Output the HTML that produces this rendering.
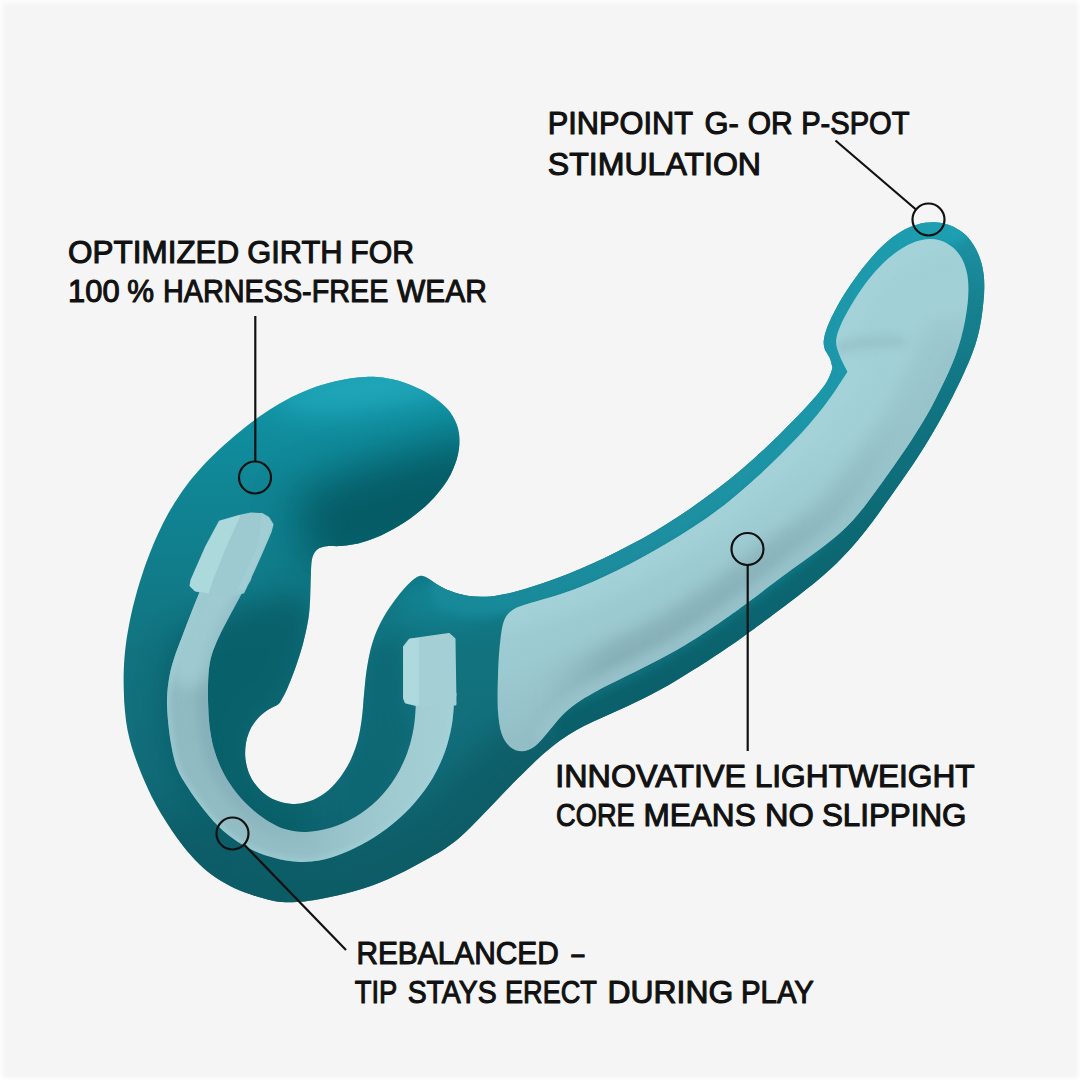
<!DOCTYPE html>
<html><head><meta charset="utf-8">
<style>
html,body{margin:0;padding:0;background:#f5f5f5;}
body{width:1080px;height:1080px;overflow:hidden;position:relative;font-family:"Liberation Sans",sans-serif;}
svg{position:absolute;left:0;top:0;display:block;}
text{font-family:"Liberation Sans",sans-serif;fill:#111;stroke:#111;stroke-width:1.1;stroke-linejoin:round;}
</style></head>
<body>
<svg width="1080" height="1080" viewBox="0 0 1080 1080">
<defs>
  <clipPath id="bodyclip"><path d="M382.7,377.6 C389.4,378.6 397.5,380.3 405.2,383.0 C412.9,385.7 422.0,389.7 429.0,393.9 C436.0,398.2 442.4,403.5 447.1,408.5 C451.7,413.6 454.6,418.8 456.7,424.2 C458.7,429.6 459.5,435.0 459.5,440.8 C459.5,446.7 458.7,452.9 456.7,459.6 C454.6,466.2 451.7,473.5 447.1,480.7 C442.5,487.9 436.1,495.8 429.1,502.7 C422.1,509.6 412.9,516.7 405.0,522.1 C397.2,527.5 388.6,531.8 382.0,535.1 C375.3,538.3 369.9,539.9 364.9,541.5 C360.0,543.1 356.4,543.9 352.3,544.6 C348.1,545.4 344.3,545.9 340.1,546.1 C335.8,546.4 330.6,545.8 327.0,546.2 C323.4,546.6 320.6,547.3 318.3,548.8 C316.0,550.3 314.5,552.3 313.3,555.0 C312.1,557.7 311.7,560.5 311.3,565.0 C310.9,569.5 310.9,576.8 310.7,582.2 C310.5,587.7 310.4,593.0 310.2,597.5 C310.0,601.9 309.8,605.5 309.5,609.1 C309.2,612.8 308.9,615.5 308.3,619.3 C307.6,623.1 306.9,627.1 305.8,631.9 C304.7,636.7 303.4,642.5 301.8,648.1 C300.2,653.7 298.1,660.1 296.2,665.6 C294.3,671.1 292.1,676.8 290.4,681.1 C288.6,685.5 287.2,688.9 285.8,691.7 C284.4,694.6 283.5,696.3 282.2,698.4 C281.0,700.5 280.4,702.4 278.3,704.2 C276.2,706.0 272.5,707.0 269.4,709.0 C266.3,711.0 262.8,713.2 259.8,716.3 C256.8,719.4 253.5,723.2 251.2,727.6 C248.9,732.0 247.0,737.4 246.0,742.7 C245.1,748.0 244.8,753.9 245.5,759.4 C246.2,764.9 247.7,770.6 250.1,775.7 C252.5,780.8 256.0,785.9 260.1,789.9 C264.3,794.0 269.6,797.7 274.9,800.0 C280.3,802.4 286.6,803.7 292.4,803.9 C298.2,804.2 304.2,803.1 309.6,801.3 C315.0,799.5 320.1,796.6 324.9,793.0 C329.7,789.4 334.2,784.9 338.3,779.7 C342.5,774.5 346.4,768.3 349.7,761.9 C352.9,755.5 355.6,748.5 357.6,741.3 C359.6,734.1 360.7,726.6 361.8,718.8 C362.9,711.0 363.2,702.6 364.0,694.6 C364.8,686.7 365.4,678.2 366.5,671.1 C367.5,664.0 368.8,657.5 370.0,652.0 C371.3,646.5 372.6,642.3 374.0,638.1 C375.5,633.9 376.7,630.7 378.6,626.8 C380.5,622.8 382.6,618.7 385.3,614.3 C388.0,609.9 391.5,604.7 394.8,600.3 C398.1,595.8 401.9,591.1 405.2,587.5 C408.4,584.0 411.5,580.9 414.1,579.0 C416.8,577.0 418.7,576.0 421.0,575.8 C423.3,575.7 425.2,576.8 427.9,578.2 C430.6,579.6 433.4,582.2 437.2,584.4 C441.0,586.5 445.5,589.2 450.5,591.1 C455.5,593.0 461.4,594.8 467.3,595.7 C473.3,596.7 479.6,597.1 486.1,596.7 C492.6,596.4 499.2,595.3 506.5,593.7 C513.7,592.2 521.5,589.9 529.6,587.5 C537.6,585.0 546.3,582.1 554.7,579.0 C563.1,576.0 571.6,572.6 580.0,569.0 C588.4,565.5 596.7,561.6 605.0,557.7 C613.4,553.7 621.7,549.5 630.0,545.1 C638.3,540.7 646.7,536.1 655.0,531.2 C663.3,526.3 671.7,521.1 680.0,515.6 C688.3,510.1 696.6,504.3 705.0,498.1 C713.3,492.0 721.6,485.7 730.0,478.9 C738.4,472.1 746.9,464.8 755.4,457.2 C763.9,449.5 773.0,440.8 781.0,432.9 C789.1,424.9 797.4,416.4 803.9,409.5 C810.3,402.6 815.8,396.7 819.8,391.6 C823.9,386.5 826.2,382.8 828.3,378.9 C830.5,375.0 831.8,369.8 832.5,368.0 C832.1,366.4 831.3,361.7 830.1,358.7 C828.8,355.7 825.8,351.4 825.0,350.0 C824.8,348.5 823.3,345.1 823.7,341.2 C824.1,337.3 825.3,332.4 827.5,326.6 C829.7,320.9 833.1,313.8 836.9,306.9 C840.7,299.9 845.5,292.3 850.4,285.1 C855.3,278.0 860.8,270.4 866.3,263.8 C871.7,257.1 877.5,250.6 883.2,245.3 C888.8,240.1 894.4,235.6 900.0,232.2 C905.6,228.8 911.2,226.3 916.8,224.7 C922.4,223.0 928.2,222.2 933.7,222.3 C939.2,222.4 944.8,223.4 949.8,225.2 C954.7,227.0 959.4,229.8 963.3,233.1 C967.3,236.4 970.7,240.5 973.4,244.7 C976.2,249.0 978.3,253.7 980.0,258.4 C981.7,263.0 982.7,267.8 983.4,272.7 C984.2,277.5 984.3,282.3 984.3,287.4 C984.3,292.5 983.9,297.7 983.3,303.1 C982.8,308.5 982.1,314.1 981.2,319.7 C980.2,325.3 979.2,330.9 977.7,336.6 C976.2,342.3 974.3,348.2 972.0,354.1 C969.8,360.1 966.9,366.4 964.2,372.4 C961.5,378.4 958.6,384.3 955.8,390.1 C953.0,395.8 950.3,401.3 947.3,406.8 C944.4,412.4 941.4,417.8 938.3,423.3 C935.2,428.9 931.9,434.4 928.5,440.0 C925.2,445.5 921.7,451.1 918.0,456.7 C914.4,462.3 910.5,467.9 906.7,473.5 C902.9,479.0 899.0,484.5 895.2,489.9 C891.5,495.2 888.0,500.2 884.1,505.6 C880.3,511.0 876.5,516.4 872.1,522.3 C867.6,528.2 862.5,534.8 857.2,541.0 C851.9,547.2 845.9,553.8 840.3,559.5 C834.7,565.2 829.0,570.3 823.5,575.2 C817.9,580.1 812.8,584.2 807.0,588.8 C801.3,593.4 795.3,598.0 789.0,602.8 C782.7,607.6 775.3,613.0 769.1,617.7 C762.8,622.3 756.5,626.9 751.4,630.7 C746.3,634.4 742.6,637.2 738.3,640.2 C734.0,643.2 730.5,645.7 725.8,648.8 C721.2,651.9 715.9,655.4 710.5,658.9 C705.1,662.4 699.1,666.2 693.5,669.8 C687.9,673.3 682.2,676.9 676.6,680.2 C671.1,683.5 665.5,686.7 660.0,689.8 C654.4,692.8 648.9,695.7 643.3,698.5 C637.8,701.3 632.2,703.9 626.7,706.5 C621.1,709.1 615.6,711.5 610.0,714.0 C604.5,716.5 598.9,718.8 593.3,721.5 C587.8,724.2 582.0,726.8 576.5,730.0 C570.9,733.2 565.4,736.7 560.0,740.5 C554.7,744.3 549.9,748.3 544.4,753.1 C539.0,757.8 533.7,762.8 527.1,769.2 C520.6,775.6 512.7,783.6 505.0,791.5 C497.4,799.4 488.4,809.1 481.1,816.6 C473.8,824.0 467.1,831.0 461.1,836.3 C455.1,841.6 450.5,844.9 445.3,848.4 C440.1,851.9 435.3,854.4 430.0,857.4 C424.7,860.4 419.1,863.5 413.6,866.5 C408.1,869.4 402.4,872.5 396.8,875.1 C391.2,877.8 385.6,880.3 380.0,882.5 C374.4,884.7 368.8,886.7 363.2,888.5 C357.6,890.3 352.1,891.9 346.6,893.3 C341.0,894.8 335.6,896.0 330.0,897.1 C324.4,898.3 318.7,899.4 313.1,900.2 C307.6,901.0 301.8,901.8 296.6,902.1 C291.4,902.4 286.5,902.5 281.8,902.1 C277.1,901.7 273.2,900.8 268.5,899.7 C263.8,898.6 259.1,897.3 253.7,895.5 C248.3,893.7 242.0,891.7 235.8,888.8 C229.6,885.9 222.6,882.3 216.4,878.1 C210.2,873.9 204.1,868.7 198.7,863.5 C193.2,858.3 188.4,852.5 183.9,847.0 C179.4,841.4 175.4,835.7 171.5,830.1 C167.7,824.4 164.1,818.9 160.8,813.3 C157.5,807.8 154.5,802.2 151.7,796.7 C148.9,791.1 146.4,785.5 144.0,780.0 C141.6,774.4 139.4,768.9 137.4,763.4 C135.3,757.9 133.4,752.5 131.7,746.9 C130.1,741.4 128.6,735.9 127.5,730.0 C126.4,724.1 125.6,717.9 125.0,711.4 C124.3,705.0 123.9,698.2 123.8,691.1 C123.6,684.1 123.5,676.9 123.8,669.2 C124.2,661.5 124.7,653.4 125.8,645.1 C126.8,636.8 128.4,627.8 130.1,619.4 C131.8,611.0 134.0,602.4 136.1,594.7 C138.2,586.9 140.4,579.8 142.7,572.9 C145.0,565.9 147.3,559.5 149.9,552.9 C152.5,546.3 155.2,539.7 158.3,533.2 C161.4,526.6 164.6,520.0 168.2,513.6 C171.8,507.3 175.5,501.1 179.7,494.9 C183.9,488.7 188.4,482.7 193.5,476.5 C198.6,470.4 204.4,464.1 210.4,458.0 C216.5,451.9 223.4,445.5 229.9,439.9 C236.3,434.2 243.1,428.7 249.3,423.9 C255.4,419.2 261.2,415.1 266.9,411.4 C272.6,407.6 278.0,404.5 283.5,401.5 C289.0,398.4 294.4,395.7 300.0,393.3 C305.5,390.8 311.1,388.5 316.7,386.6 C322.3,384.7 328.0,383.1 333.5,381.7 C339.0,380.4 344.4,379.3 349.7,378.5 C355.0,377.7 359.7,377.0 365.2,376.9 C370.7,376.7 376.0,376.6 382.7,377.6Z"/></clipPath>
  <clipPath id="coreclip"><path d="M513.5,609.5 C517.8,606.6 523.7,605.3 530.5,603.1 C537.3,600.9 545.8,598.8 554.0,596.2 C562.2,593.5 571.2,590.5 579.7,587.2 C588.2,583.9 596.7,580.2 605.0,576.3 C613.4,572.4 621.7,568.2 630.0,563.9 C638.3,559.6 646.7,555.0 655.0,550.3 C663.3,545.6 671.7,540.7 680.0,535.5 C688.3,530.3 696.6,525.0 705.0,519.2 C713.3,513.3 721.6,507.2 730.0,500.4 C738.4,493.7 747.0,486.3 755.4,478.6 C763.9,471.0 772.7,462.5 780.7,454.6 C788.6,446.6 796.5,438.5 803.3,431.0 C810.1,423.5 816.1,416.3 821.5,409.5 C826.9,402.6 831.4,396.2 835.7,389.9 C840.0,383.6 845.5,374.7 847.5,371.7 C846.1,368.9 841.2,359.9 839.4,354.8 C837.5,349.8 836.1,345.9 836.2,341.3 C836.3,336.6 837.6,332.7 840.0,326.9 C842.4,321.1 846.2,313.9 850.5,306.6 C854.8,299.2 860.5,290.3 865.9,283.1 C871.3,275.8 877.5,268.8 883.2,263.2 C888.9,257.6 894.8,253.2 900.3,249.6 C905.8,246.0 911.2,243.4 916.2,241.6 C921.3,239.9 926.1,239.1 930.6,239.0 C935.0,239.0 939.2,239.9 943.1,241.4 C946.9,243.0 950.5,245.3 953.6,248.1 C956.7,250.9 959.5,254.4 961.7,258.3 C963.8,262.3 965.5,266.8 966.6,271.6 C967.8,276.3 968.3,281.5 968.4,286.7 C968.6,292.0 968.2,297.5 967.7,303.0 C967.1,308.6 966.2,314.3 965.2,320.1 C964.1,325.9 962.8,331.8 961.2,337.7 C959.6,343.6 957.6,349.5 955.4,355.4 C953.3,361.3 950.7,367.2 948.1,373.0 C945.5,378.7 942.8,384.4 940.0,390.1 C937.3,395.7 934.5,401.2 931.5,406.7 C928.5,412.3 925.3,417.8 922.0,423.3 C918.6,428.9 915.1,434.4 911.5,440.0 C907.8,445.6 904.0,451.2 900.1,456.7 C896.3,462.3 892.3,467.9 888.4,473.5 C884.5,479.0 880.6,484.5 876.7,489.8 C872.9,495.1 869.2,500.2 865.3,505.2 C861.4,510.2 857.8,514.8 853.5,519.6 C849.2,524.3 844.6,528.9 839.3,533.6 C834.1,538.3 827.9,543.2 822.0,547.6 C816.2,552.1 810.1,556.3 804.3,560.5 C798.5,564.6 793.1,568.4 787.3,572.7 C781.4,577.0 774.9,581.9 769.0,586.3 C763.1,590.8 756.8,595.7 751.7,599.5 C746.6,603.3 742.6,606.3 738.3,609.4 C734.0,612.5 730.5,615.0 725.8,618.2 C721.2,621.5 715.9,625.1 710.5,628.7 C705.1,632.3 699.1,636.3 693.5,639.8 C687.9,643.4 682.2,646.8 676.6,650.0 C671.1,653.2 665.5,656.1 660.0,659.1 C654.4,662.0 648.9,664.7 643.3,667.5 C637.8,670.3 632.2,673.0 626.7,675.7 C621.1,678.5 615.6,681.2 610.0,684.1 C604.4,687.0 598.8,689.7 593.1,692.9 C587.5,696.1 581.8,699.2 576.4,703.2 C571.0,707.1 565.6,711.7 560.8,716.7 C555.9,721.7 551.6,728.0 547.2,733.0 C542.9,737.9 538.9,743.4 534.7,746.4 C530.5,749.5 526.1,751.3 522.0,751.3 C517.9,751.4 513.5,749.8 510.1,746.9 C506.6,743.9 503.6,739.8 501.5,733.5 C499.5,727.3 498.4,719.0 497.8,709.3 C497.3,699.6 497.6,686.6 498.0,675.5 C498.3,664.3 499.0,651.6 500.1,642.4 C501.1,633.2 502.0,625.8 504.2,620.3 C506.5,614.9 509.1,612.3 513.5,609.5Z"/></clipPath>
  <clipPath id="chanclip"><path d="M210.0,568.0 C201.6,570.8 202.9,584.2 199.6,592.1 C196.3,600.0 193.3,607.9 190.3,615.3 C187.4,622.7 184.6,630.0 182.1,636.7 C179.6,643.3 177.1,649.4 175.2,655.1 C173.3,660.9 171.7,666.0 170.5,671.1 C169.4,676.1 168.6,680.8 168.0,685.5 C167.4,690.2 167.1,694.3 167.0,699.4 C166.9,704.5 167.1,709.8 167.6,716.2 C168.1,722.6 169.0,730.7 170.0,737.8 C171.1,744.8 172.5,752.6 174.0,758.4 C175.5,764.3 176.9,768.2 179.0,772.7 C181.0,777.1 183.1,780.0 186.2,784.9 C189.3,789.7 193.1,795.7 197.7,801.8 C202.3,807.9 207.9,815.4 213.7,821.4 C219.5,827.5 226.0,833.4 232.6,838.2 C239.1,843.0 246.0,846.9 253.0,850.2 C260.1,853.5 267.5,856.1 274.9,858.0 C282.3,860.0 289.9,861.4 297.2,861.8 C304.6,862.2 311.7,861.9 319.3,860.6 C326.8,859.2 334.4,856.9 342.4,853.6 C350.5,850.4 359.2,846.1 367.6,841.2 C375.9,836.2 384.7,830.3 392.6,823.9 C400.5,817.5 408.3,810.1 414.9,802.5 C421.6,794.8 427.7,786.4 432.7,778.0 C437.6,769.6 441.7,760.6 444.8,752.1 C447.9,743.7 449.9,734.9 451.4,727.3 C452.9,719.7 453.4,712.7 453.7,706.5 C454.1,700.3 459.8,692.8 453.5,690.0 C447.2,687.2 422.3,687.2 416.0,690.0 C409.7,692.8 416.1,700.7 415.7,707.0 C415.3,713.3 415.0,720.2 413.7,727.8 C412.3,735.4 410.5,744.1 407.4,752.4 C404.3,760.7 400.3,769.6 395.3,777.6 C390.3,785.5 384.2,793.4 377.4,800.1 C370.7,806.7 362.8,812.7 354.8,817.3 C346.9,822.0 337.9,825.6 329.8,828.0 C321.7,830.4 313.4,831.7 306.2,831.9 C299.0,832.2 292.6,831.3 286.5,829.6 C280.4,828.0 275.1,825.3 269.5,822.0 C263.8,818.7 258.3,814.6 252.8,809.8 C247.4,805.1 241.6,799.4 236.8,793.3 C231.9,787.2 227.2,780.2 223.6,773.3 C220.0,766.5 217.1,759.1 214.9,752.1 C212.7,745.2 211.4,738.4 210.3,731.4 C209.2,724.4 208.7,717.3 208.4,710.3 C208.0,703.2 207.9,695.6 208.0,689.0 C208.1,682.4 208.2,676.2 208.8,670.5 C209.4,664.8 210.1,660.2 211.8,654.5 C213.5,648.8 216.0,643.0 219.1,636.4 C222.1,629.7 226.5,621.9 230.2,614.8 C234.0,607.7 238.2,600.3 241.5,593.7 C244.7,587.1 255.2,579.3 250.0,575.0 C244.8,570.7 218.4,565.2 210.0,568.0Z"/></clipPath>
  <filter id="b3" color-interpolation-filters="sRGB" filterUnits="userSpaceOnUse" x="0" y="0" width="1080" height="1080"><feGaussianBlur stdDeviation="3"/></filter>
  <filter id="b5" color-interpolation-filters="sRGB" filterUnits="userSpaceOnUse" x="0" y="0" width="1080" height="1080"><feGaussianBlur stdDeviation="5"/></filter>
  <filter id="b8" color-interpolation-filters="sRGB" filterUnits="userSpaceOnUse" x="0" y="0" width="1080" height="1080"><feGaussianBlur stdDeviation="8"/></filter>
  <filter id="b14" color-interpolation-filters="sRGB" filterUnits="userSpaceOnUse" x="0" y="0" width="1080" height="1080"><feGaussianBlur stdDeviation="14"/></filter>
  <filter id="b22" color-interpolation-filters="sRGB" filterUnits="userSpaceOnUse" x="0" y="0" width="1080" height="1080"><feGaussianBlur stdDeviation="22"/></filter>
  <linearGradient id="bodyg" gradientUnits="userSpaceOnUse" x1="0" y1="380" x2="0" y2="900">
    <stop offset="0" stop-color="#1094a6"/><stop offset=".23" stop-color="#108493"/><stop offset=".375" stop-color="#117c8a"/><stop offset=".52" stop-color="#12737f"/><stop offset=".72" stop-color="#126d7a"/><stop offset="1" stop-color="#0e606b"/>
  </linearGradient>
  <linearGradient id="coreg" gradientUnits="userSpaceOnUse" x1="640" y1="520" x2="700" y2="660">
    <stop offset="0" stop-color="#a2d0d7"/><stop offset=".55" stop-color="#9ccad1"/><stop offset="1" stop-color="#93bec6"/>
  </linearGradient>
  <linearGradient id="rimg" gradientUnits="userSpaceOnUse" x1="0" y1="230" x2="0" y2="740">
    <stop offset="0" stop-color="#1c93a5"/><stop offset=".14" stop-color="#17818f"/><stop offset=".3" stop-color="#127684"/><stop offset=".6" stop-color="#0c6873"/><stop offset="1" stop-color="#095e69"/>
  </linearGradient>
  <linearGradient id="shg" gradientUnits="userSpaceOnUse" x1="540" y1="0" x2="975" y2="0">
    <stop offset="0" stop-color="#7ea4ac" stop-opacity="0"/><stop offset=".16" stop-color="#7ea4ac" stop-opacity=".62"/><stop offset=".55" stop-color="#7ea4ac" stop-opacity=".55"/><stop offset=".78" stop-color="#7ea4ac" stop-opacity=".28"/><stop offset="1" stop-color="#7ea4ac" stop-opacity=".12"/>
  </linearGradient>
  <linearGradient id="chg" gradientUnits="userSpaceOnUse" x1="167" y1="0" x2="455" y2="0">
    <stop offset="0" stop-color="#90bac1"/><stop offset=".5" stop-color="#95bfc7"/><stop offset=".8" stop-color="#a0cbd1"/><stop offset="1" stop-color="#a5d0d6"/>
  </linearGradient>
  <linearGradient id="chsh" gradientUnits="userSpaceOnUse" x1="200" y1="0" x2="330" y2="0">
    <stop offset="0" stop-color="#7aa6b2" stop-opacity=".55"/><stop offset="1" stop-color="#7aa6b2" stop-opacity="0"/>
  </linearGradient>
  <linearGradient id="rimt" gradientUnits="userSpaceOnUse" x1="480" y1="0" x2="950" y2="0">
    <stop offset="0" stop-color="#178999"/><stop offset=".36" stop-color="#1d8e9f"/><stop offset=".78" stop-color="#1c98aa"/><stop offset="1" stop-color="#1e9fb2"/>
  </linearGradient>
</defs>
<rect width="1080" height="1080" fill="#f5f5f5"/>
<!-- body -->
<path d="M382.7,377.6 C389.4,378.6 397.5,380.3 405.2,383.0 C412.9,385.7 422.0,389.7 429.0,393.9 C436.0,398.2 442.4,403.5 447.1,408.5 C451.7,413.6 454.6,418.8 456.7,424.2 C458.7,429.6 459.5,435.0 459.5,440.8 C459.5,446.7 458.7,452.9 456.7,459.6 C454.6,466.2 451.7,473.5 447.1,480.7 C442.5,487.9 436.1,495.8 429.1,502.7 C422.1,509.6 412.9,516.7 405.0,522.1 C397.2,527.5 388.6,531.8 382.0,535.1 C375.3,538.3 369.9,539.9 364.9,541.5 C360.0,543.1 356.4,543.9 352.3,544.6 C348.1,545.4 344.3,545.9 340.1,546.1 C335.8,546.4 330.6,545.8 327.0,546.2 C323.4,546.6 320.6,547.3 318.3,548.8 C316.0,550.3 314.5,552.3 313.3,555.0 C312.1,557.7 311.7,560.5 311.3,565.0 C310.9,569.5 310.9,576.8 310.7,582.2 C310.5,587.7 310.4,593.0 310.2,597.5 C310.0,601.9 309.8,605.5 309.5,609.1 C309.2,612.8 308.9,615.5 308.3,619.3 C307.6,623.1 306.9,627.1 305.8,631.9 C304.7,636.7 303.4,642.5 301.8,648.1 C300.2,653.7 298.1,660.1 296.2,665.6 C294.3,671.1 292.1,676.8 290.4,681.1 C288.6,685.5 287.2,688.9 285.8,691.7 C284.4,694.6 283.5,696.3 282.2,698.4 C281.0,700.5 280.4,702.4 278.3,704.2 C276.2,706.0 272.5,707.0 269.4,709.0 C266.3,711.0 262.8,713.2 259.8,716.3 C256.8,719.4 253.5,723.2 251.2,727.6 C248.9,732.0 247.0,737.4 246.0,742.7 C245.1,748.0 244.8,753.9 245.5,759.4 C246.2,764.9 247.7,770.6 250.1,775.7 C252.5,780.8 256.0,785.9 260.1,789.9 C264.3,794.0 269.6,797.7 274.9,800.0 C280.3,802.4 286.6,803.7 292.4,803.9 C298.2,804.2 304.2,803.1 309.6,801.3 C315.0,799.5 320.1,796.6 324.9,793.0 C329.7,789.4 334.2,784.9 338.3,779.7 C342.5,774.5 346.4,768.3 349.7,761.9 C352.9,755.5 355.6,748.5 357.6,741.3 C359.6,734.1 360.7,726.6 361.8,718.8 C362.9,711.0 363.2,702.6 364.0,694.6 C364.8,686.7 365.4,678.2 366.5,671.1 C367.5,664.0 368.8,657.5 370.0,652.0 C371.3,646.5 372.6,642.3 374.0,638.1 C375.5,633.9 376.7,630.7 378.6,626.8 C380.5,622.8 382.6,618.7 385.3,614.3 C388.0,609.9 391.5,604.7 394.8,600.3 C398.1,595.8 401.9,591.1 405.2,587.5 C408.4,584.0 411.5,580.9 414.1,579.0 C416.8,577.0 418.7,576.0 421.0,575.8 C423.3,575.7 425.2,576.8 427.9,578.2 C430.6,579.6 433.4,582.2 437.2,584.4 C441.0,586.5 445.5,589.2 450.5,591.1 C455.5,593.0 461.4,594.8 467.3,595.7 C473.3,596.7 479.6,597.1 486.1,596.7 C492.6,596.4 499.2,595.3 506.5,593.7 C513.7,592.2 521.5,589.9 529.6,587.5 C537.6,585.0 546.3,582.1 554.7,579.0 C563.1,576.0 571.6,572.6 580.0,569.0 C588.4,565.5 596.7,561.6 605.0,557.7 C613.4,553.7 621.7,549.5 630.0,545.1 C638.3,540.7 646.7,536.1 655.0,531.2 C663.3,526.3 671.7,521.1 680.0,515.6 C688.3,510.1 696.6,504.3 705.0,498.1 C713.3,492.0 721.6,485.7 730.0,478.9 C738.4,472.1 746.9,464.8 755.4,457.2 C763.9,449.5 773.0,440.8 781.0,432.9 C789.1,424.9 797.4,416.4 803.9,409.5 C810.3,402.6 815.8,396.7 819.8,391.6 C823.9,386.5 826.2,382.8 828.3,378.9 C830.5,375.0 831.8,369.8 832.5,368.0 C832.1,366.4 831.3,361.7 830.1,358.7 C828.8,355.7 825.8,351.4 825.0,350.0 C824.8,348.5 823.3,345.1 823.7,341.2 C824.1,337.3 825.3,332.4 827.5,326.6 C829.7,320.9 833.1,313.8 836.9,306.9 C840.7,299.9 845.5,292.3 850.4,285.1 C855.3,278.0 860.8,270.4 866.3,263.8 C871.7,257.1 877.5,250.6 883.2,245.3 C888.8,240.1 894.4,235.6 900.0,232.2 C905.6,228.8 911.2,226.3 916.8,224.7 C922.4,223.0 928.2,222.2 933.7,222.3 C939.2,222.4 944.8,223.4 949.8,225.2 C954.7,227.0 959.4,229.8 963.3,233.1 C967.3,236.4 970.7,240.5 973.4,244.7 C976.2,249.0 978.3,253.7 980.0,258.4 C981.7,263.0 982.7,267.8 983.4,272.7 C984.2,277.5 984.3,282.3 984.3,287.4 C984.3,292.5 983.9,297.7 983.3,303.1 C982.8,308.5 982.1,314.1 981.2,319.7 C980.2,325.3 979.2,330.9 977.7,336.6 C976.2,342.3 974.3,348.2 972.0,354.1 C969.8,360.1 966.9,366.4 964.2,372.4 C961.5,378.4 958.6,384.3 955.8,390.1 C953.0,395.8 950.3,401.3 947.3,406.8 C944.4,412.4 941.4,417.8 938.3,423.3 C935.2,428.9 931.9,434.4 928.5,440.0 C925.2,445.5 921.7,451.1 918.0,456.7 C914.4,462.3 910.5,467.9 906.7,473.5 C902.9,479.0 899.0,484.5 895.2,489.9 C891.5,495.2 888.0,500.2 884.1,505.6 C880.3,511.0 876.5,516.4 872.1,522.3 C867.6,528.2 862.5,534.8 857.2,541.0 C851.9,547.2 845.9,553.8 840.3,559.5 C834.7,565.2 829.0,570.3 823.5,575.2 C817.9,580.1 812.8,584.2 807.0,588.8 C801.3,593.4 795.3,598.0 789.0,602.8 C782.7,607.6 775.3,613.0 769.1,617.7 C762.8,622.3 756.5,626.9 751.4,630.7 C746.3,634.4 742.6,637.2 738.3,640.2 C734.0,643.2 730.5,645.7 725.8,648.8 C721.2,651.9 715.9,655.4 710.5,658.9 C705.1,662.4 699.1,666.2 693.5,669.8 C687.9,673.3 682.2,676.9 676.6,680.2 C671.1,683.5 665.5,686.7 660.0,689.8 C654.4,692.8 648.9,695.7 643.3,698.5 C637.8,701.3 632.2,703.9 626.7,706.5 C621.1,709.1 615.6,711.5 610.0,714.0 C604.5,716.5 598.9,718.8 593.3,721.5 C587.8,724.2 582.0,726.8 576.5,730.0 C570.9,733.2 565.4,736.7 560.0,740.5 C554.7,744.3 549.9,748.3 544.4,753.1 C539.0,757.8 533.7,762.8 527.1,769.2 C520.6,775.6 512.7,783.6 505.0,791.5 C497.4,799.4 488.4,809.1 481.1,816.6 C473.8,824.0 467.1,831.0 461.1,836.3 C455.1,841.6 450.5,844.9 445.3,848.4 C440.1,851.9 435.3,854.4 430.0,857.4 C424.7,860.4 419.1,863.5 413.6,866.5 C408.1,869.4 402.4,872.5 396.8,875.1 C391.2,877.8 385.6,880.3 380.0,882.5 C374.4,884.7 368.8,886.7 363.2,888.5 C357.6,890.3 352.1,891.9 346.6,893.3 C341.0,894.8 335.6,896.0 330.0,897.1 C324.4,898.3 318.7,899.4 313.1,900.2 C307.6,901.0 301.8,901.8 296.6,902.1 C291.4,902.4 286.5,902.5 281.8,902.1 C277.1,901.7 273.2,900.8 268.5,899.7 C263.8,898.6 259.1,897.3 253.7,895.5 C248.3,893.7 242.0,891.7 235.8,888.8 C229.6,885.9 222.6,882.3 216.4,878.1 C210.2,873.9 204.1,868.7 198.7,863.5 C193.2,858.3 188.4,852.5 183.9,847.0 C179.4,841.4 175.4,835.7 171.5,830.1 C167.7,824.4 164.1,818.9 160.8,813.3 C157.5,807.8 154.5,802.2 151.7,796.7 C148.9,791.1 146.4,785.5 144.0,780.0 C141.6,774.4 139.4,768.9 137.4,763.4 C135.3,757.9 133.4,752.5 131.7,746.9 C130.1,741.4 128.6,735.9 127.5,730.0 C126.4,724.1 125.6,717.9 125.0,711.4 C124.3,705.0 123.9,698.2 123.8,691.1 C123.6,684.1 123.5,676.9 123.8,669.2 C124.2,661.5 124.7,653.4 125.8,645.1 C126.8,636.8 128.4,627.8 130.1,619.4 C131.8,611.0 134.0,602.4 136.1,594.7 C138.2,586.9 140.4,579.8 142.7,572.9 C145.0,565.9 147.3,559.5 149.9,552.9 C152.5,546.3 155.2,539.7 158.3,533.2 C161.4,526.6 164.6,520.0 168.2,513.6 C171.8,507.3 175.5,501.1 179.7,494.9 C183.9,488.7 188.4,482.7 193.5,476.5 C198.6,470.4 204.4,464.1 210.4,458.0 C216.5,451.9 223.4,445.5 229.9,439.9 C236.3,434.2 243.1,428.7 249.3,423.9 C255.4,419.2 261.2,415.1 266.9,411.4 C272.6,407.6 278.0,404.5 283.5,401.5 C289.0,398.4 294.4,395.7 300.0,393.3 C305.5,390.8 311.1,388.5 316.7,386.6 C322.3,384.7 328.0,383.1 333.5,381.7 C339.0,380.4 344.4,379.3 349.7,378.5 C355.0,377.7 359.7,377.0 365.2,376.9 C370.7,376.7 376.0,376.6 382.7,377.6Z" fill="url(#bodyg)"/>
<g clip-path="url(#bodyclip)" fill="none" stroke-linecap="round" stroke-linejoin="round">
  <!-- shadows -->
  <path d="M292,497 L345,472 L400,455 L485,432 L495,505 L430,555 L345,580 L312,568 Z" fill="#055a64" filter="url(#b22)" opacity=".95"/>
  <path d="M366,670 L372,645 L395,640 L403,650 L403,710 L412,730 L400,765 L375,800 L340,815 L350,770 L362,730 Z" fill="#0a6570" filter="url(#b8)" opacity=".6"/>
  <path d="M297.2,861.8 L274.9,858.0 L253.0,850.2 L232.6,838.2 L213.7,821.4 L197.7,801.8 L186.2,784.9 L179.0,772.7 L174.0,758.4 L170.0,737.8 L167.6,716.2 L167.0,699.4 L168.0,685.5 L170.5,671.1 L175.2,655.1 L182.1,636.7 L250.0,610.0 L290.0,600.0 L309.5,609.1 L308.3,619.3 L305.8,631.9 L301.8,648.1 L296.2,665.6 L290.4,681.1 L285.8,691.7 L282.2,698.4 L278.3,704.2 L269.4,709.0 L259.8,716.3 L251.2,727.6 L246.0,742.7 L245.5,759.4 L250.1,775.7 L260.1,789.9 L274.9,800.0 L292.4,803.9 L309.6,801.3Z" fill="#09606a" stroke="#09606a" stroke-width="10" filter="url(#b14)" opacity=".95"/>
  <path d="M527.1,769.2 C523.5,772.9 512.7,783.6 505.0,791.5 C497.4,799.4 488.4,809.1 481.1,816.6 C473.8,824.0 467.1,831.0 461.1,836.3 C455.1,841.6 450.5,844.9 445.3,848.4 C440.1,851.9 435.3,854.4 430.0,857.4 C424.7,860.4 419.1,863.5 413.6,866.5 C408.1,869.4 402.4,872.5 396.8,875.1 C391.2,877.8 385.6,880.3 380.0,882.5 C374.4,884.7 368.8,886.7 363.2,888.5 C357.6,890.3 352.1,891.9 346.6,893.3 C341.0,894.8 335.6,896.0 330.0,897.1 C324.4,898.3 318.7,899.4 313.1,900.2 C307.6,901.0 301.8,901.8 296.6,902.1 C291.4,902.4 286.5,902.5 281.8,902.1 C277.1,901.7 273.2,900.8 268.5,899.7 C263.8,898.6 259.1,897.3 253.7,895.5 C248.3,893.7 242.0,891.7 235.8,888.8 C229.6,885.9 222.6,882.3 216.4,878.1 C210.2,873.9 201.6,866.0 198.7,863.5" stroke="#0d5c66" stroke-width="96" filter="url(#b14)" opacity=".8"/>
  <path d="M973.4,244.7 C974.5,247.0 978.3,253.7 980.0,258.4 C981.7,263.0 982.7,267.8 983.4,272.7 C984.2,277.5 984.3,282.3 984.3,287.4 C984.3,292.5 983.9,297.7 983.3,303.1 C982.8,308.5 982.1,314.1 981.2,319.7 C980.2,325.3 979.2,330.9 977.7,336.6 C976.2,342.3 974.3,348.2 972.0,354.1 C969.8,360.1 966.9,366.4 964.2,372.4 C961.5,378.4 958.6,384.3 955.8,390.1 C953.0,395.8 950.3,401.3 947.3,406.8 C944.4,412.4 941.4,417.8 938.3,423.3 C935.2,428.9 931.9,434.4 928.5,440.0 C925.2,445.5 921.7,451.1 918.0,456.7 C914.4,462.3 910.5,467.9 906.7,473.5 C902.9,479.0 899.0,484.5 895.2,489.9 C891.5,495.2 888.0,500.2 884.1,505.6 C880.3,511.0 876.5,516.4 872.1,522.3 C867.6,528.2 862.5,534.8 857.2,541.0 C851.9,547.2 845.9,553.8 840.3,559.5 C834.7,565.2 829.0,570.3 823.5,575.2 C817.9,580.1 812.8,584.2 807.0,588.8 C801.3,593.4 795.3,598.0 789.0,602.8 C782.7,607.6 775.3,613.0 769.1,617.7 C762.8,622.3 756.5,626.9 751.4,630.7 C746.3,634.4 742.6,637.2 738.3,640.2 C734.0,643.2 730.5,645.7 725.8,648.8 C721.2,651.9 715.9,655.4 710.5,658.9 C705.1,662.4 699.1,666.2 693.5,669.8 C687.9,673.3 682.2,676.9 676.6,680.2 C671.1,683.5 665.5,686.7 660.0,689.8 C654.4,692.8 648.9,695.7 643.3,698.5 C637.8,701.3 632.2,703.9 626.7,706.5 C621.1,709.1 615.6,711.5 610.0,714.0 C604.5,716.5 598.9,718.8 593.3,721.5 C587.8,724.2 579.3,728.6 576.5,730.0" stroke="url(#rimg)" stroke-width="44" filter="url(#b5)"/>
  <!-- highlights -->
  <ellipse cx="372" cy="386" rx="100" ry="22" transform="rotate(-8 372 386)" fill="#20a6b9" filter="url(#b14)"/>
  <ellipse cx="445" cy="600" rx="50" ry="18" fill="#15899a" filter="url(#b14)" opacity=".8"/>
  <path d="M450.5,591.1 C453.3,591.9 461.4,594.8 467.3,595.7 C473.3,596.7 479.6,597.1 486.1,596.7 C492.6,596.4 499.2,595.3 506.5,593.7 C513.7,592.2 521.5,589.9 529.6,587.5 C537.6,585.0 546.3,582.1 554.7,579.0 C563.1,576.0 571.6,572.6 580.0,569.0 C588.4,565.5 596.7,561.6 605.0,557.7 C613.4,553.7 621.7,549.5 630.0,545.1 C638.3,540.7 646.7,536.1 655.0,531.2 C663.3,526.3 671.7,521.1 680.0,515.6 C688.3,510.1 696.6,504.3 705.0,498.1 C713.3,492.0 721.6,485.7 730.0,478.9 C738.4,472.1 746.9,464.8 755.4,457.2 C763.9,449.5 773.0,440.8 781.0,432.9 C789.1,424.9 797.4,416.4 803.9,409.5 C810.3,402.6 815.8,396.7 819.8,391.6 C823.9,386.5 826.2,382.8 828.3,378.9 C830.5,375.0 831.8,369.8 832.5,368.0 C832.1,366.4 831.3,361.7 830.1,358.7 C828.8,355.7 825.8,351.4 825.0,350.0 C824.8,348.5 823.3,345.1 823.7,341.2 C824.1,337.3 825.3,332.4 827.5,326.6 C829.7,320.9 833.1,313.8 836.9,306.9 C840.7,299.9 845.5,292.3 850.4,285.1 C855.3,278.0 860.8,270.4 866.3,263.8 C871.7,257.1 877.5,250.6 883.2,245.3 C888.8,240.1 894.4,235.6 900.0,232.2 C905.6,228.8 911.2,226.3 916.8,224.7 C922.4,223.0 928.2,222.2 933.7,222.3 C939.2,222.4 947.1,224.7 949.8,225.2" stroke="url(#rimt)" stroke-width="40" filter="url(#b5)"/>
</g>
<!-- channel + clips -->
<path d="M210.0,568.0 C201.6,570.8 202.9,584.2 199.6,592.1 C196.3,600.0 193.3,607.9 190.3,615.3 C187.4,622.7 184.6,630.0 182.1,636.7 C179.6,643.3 177.1,649.4 175.2,655.1 C173.3,660.9 171.7,666.0 170.5,671.1 C169.4,676.1 168.6,680.8 168.0,685.5 C167.4,690.2 167.1,694.3 167.0,699.4 C166.9,704.5 167.1,709.8 167.6,716.2 C168.1,722.6 169.0,730.7 170.0,737.8 C171.1,744.8 172.5,752.6 174.0,758.4 C175.5,764.3 176.9,768.2 179.0,772.7 C181.0,777.1 183.1,780.0 186.2,784.9 C189.3,789.7 193.1,795.7 197.7,801.8 C202.3,807.9 207.9,815.4 213.7,821.4 C219.5,827.5 226.0,833.4 232.6,838.2 C239.1,843.0 246.0,846.9 253.0,850.2 C260.1,853.5 267.5,856.1 274.9,858.0 C282.3,860.0 289.9,861.4 297.2,861.8 C304.6,862.2 311.7,861.9 319.3,860.6 C326.8,859.2 334.4,856.9 342.4,853.6 C350.5,850.4 359.2,846.1 367.6,841.2 C375.9,836.2 384.7,830.3 392.6,823.9 C400.5,817.5 408.3,810.1 414.9,802.5 C421.6,794.8 427.7,786.4 432.7,778.0 C437.6,769.6 441.7,760.6 444.8,752.1 C447.9,743.7 449.9,734.9 451.4,727.3 C452.9,719.7 453.4,712.7 453.7,706.5 C454.1,700.3 459.8,692.8 453.5,690.0 C447.2,687.2 422.3,687.2 416.0,690.0 C409.7,692.8 416.1,700.7 415.7,707.0 C415.3,713.3 415.0,720.2 413.7,727.8 C412.3,735.4 410.5,744.1 407.4,752.4 C404.3,760.7 400.3,769.6 395.3,777.6 C390.3,785.5 384.2,793.4 377.4,800.1 C370.7,806.7 362.8,812.7 354.8,817.3 C346.9,822.0 337.9,825.6 329.8,828.0 C321.7,830.4 313.4,831.7 306.2,831.9 C299.0,832.2 292.6,831.3 286.5,829.6 C280.4,828.0 275.1,825.3 269.5,822.0 C263.8,818.7 258.3,814.6 252.8,809.8 C247.4,805.1 241.6,799.4 236.8,793.3 C231.9,787.2 227.2,780.2 223.6,773.3 C220.0,766.5 217.1,759.1 214.9,752.1 C212.7,745.2 211.4,738.4 210.3,731.4 C209.2,724.4 208.7,717.3 208.4,710.3 C208.0,703.2 207.9,695.6 208.0,689.0 C208.1,682.4 208.2,676.2 208.8,670.5 C209.4,664.8 210.1,660.2 211.8,654.5 C213.5,648.8 216.0,643.0 219.1,636.4 C222.1,629.7 226.5,621.9 230.2,614.8 C234.0,607.7 238.2,600.3 241.5,593.7 C244.7,587.1 255.2,579.3 250.0,575.0 C244.8,570.7 218.4,565.2 210.0,568.0Z" fill="url(#chg)"/>
<g clip-path="url(#chanclip)" fill="none">
  <path d="M416.0,690.0 C415.9,692.8 416.1,700.7 415.7,707.0 C415.3,713.3 415.0,720.2 413.7,727.8 C412.3,735.4 410.5,744.1 407.4,752.4 C404.3,760.7 400.3,769.6 395.3,777.6 C390.3,785.5 384.2,793.4 377.4,800.1 C370.7,806.7 362.8,812.7 354.8,817.3 C346.9,822.0 337.9,825.6 329.8,828.0 C321.7,830.4 313.4,831.7 306.2,831.9 C299.0,832.2 292.6,831.3 286.5,829.6 C280.4,828.0 275.1,825.3 269.5,822.0 C263.8,818.7 258.3,814.6 252.8,809.8 C247.4,805.1 241.6,799.4 236.8,793.3 C231.9,787.2 227.2,780.2 223.6,773.3 C220.0,766.5 217.1,759.1 214.9,752.1 C212.7,745.2 211.4,738.4 210.3,731.4 C209.2,724.4 208.7,717.3 208.4,710.3 C208.0,703.2 207.9,695.6 208.0,689.0 C208.1,682.4 208.2,676.2 208.8,670.5 C209.4,664.8 210.1,660.2 211.8,654.5 C213.5,648.8 216.0,643.0 219.1,636.4 C222.1,629.7 226.5,621.9 230.2,614.8 C234.0,607.7 238.2,600.3 241.5,593.7 C244.7,587.1 248.6,578.1 250.0,575.0" stroke="url(#chsh)" stroke-width="22" filter="url(#b5)"/>
  <path d="M222,590 Q200,625 190,665" stroke="#a4d1d6" stroke-width="44" filter="url(#b8)" opacity=".7" stroke-linecap="round"/>
  <path d="M210.0,568.0 C208.3,572.0 202.9,584.2 199.6,592.1 C196.3,600.0 193.3,607.9 190.3,615.3 C187.4,622.7 184.6,630.0 182.1,636.7 C179.6,643.3 177.1,649.4 175.2,655.1 C173.3,660.9 171.7,666.0 170.5,671.1 C169.4,676.1 168.6,680.8 168.0,685.5 C167.4,690.2 167.1,694.3 167.0,699.4 C166.9,704.5 167.1,709.8 167.6,716.2 C168.1,722.6 169.0,730.7 170.0,737.8 C171.1,744.8 172.5,752.6 174.0,758.4 C175.5,764.3 176.9,768.2 179.0,772.7 C181.0,777.1 183.1,780.0 186.2,784.9 C189.3,789.7 193.1,795.7 197.7,801.8 C202.3,807.9 207.9,815.4 213.7,821.4 C219.5,827.5 226.0,833.4 232.6,838.2 C239.1,843.0 246.0,846.9 253.0,850.2 C260.1,853.5 267.5,856.1 274.9,858.0 C282.3,860.0 289.9,861.4 297.2,861.8 C304.6,862.2 311.7,861.9 319.3,860.6 C326.8,859.2 334.4,856.9 342.4,853.6 C350.5,850.4 359.2,846.1 367.6,841.2 C375.9,836.2 384.7,830.3 392.6,823.9 C400.5,817.5 408.3,810.1 414.9,802.5 C421.6,794.8 427.7,786.4 432.7,778.0 C437.6,769.6 441.7,760.6 444.8,752.1 C447.9,743.7 449.9,734.9 451.4,727.3 C452.9,719.7 453.4,712.7 453.7,706.5 C454.1,700.3 453.5,692.8 453.5,690.0" stroke="#a3d3da" stroke-width="5" filter="url(#b3)" opacity=".8"/>
</g>
<path d="M220.0,522.0 L239.0,516.5 L251.0,514.0 L262.0,514.5 L268.0,518.0 L272.0,524.5 L270.0,532.0 L261.0,553.0 L252.0,573.0 L243.0,592.0 L225.0,596.5 L208.0,592.5 L195.5,590.0 L191.0,585.5 L192.0,580.0 L206.7,546.7Z" fill="#9ccad0" stroke="#9ccad0" stroke-width="3" stroke-linejoin="round"/>
<path d="M404.5,647.0 L410.0,640.0 L449.0,634.5 L454.0,639.0 L455.0,704.0 L416.0,704.5 L406.0,702.0 L404.5,698.0Z" fill="#a4d0d5" stroke="#a4d0d5" stroke-width="3" stroke-linejoin="round"/>
<path d="M220,522 L239,516.5 L226,545 L212,580 L208,592.5 L195.5,590 L191,585.5 L192,580 L206.7,546.7Z" fill="#acd9dc" stroke="#acd9dc" stroke-width="2" stroke-linejoin="round"/>
<path d="M262,515 L268,518 L272,524.5 L270,532 L261,553 L252,573 L244,590 L238,589 L258,545 Z" fill="#a3d0d6" opacity=".7"/>
<path d="M404.5,647 L410,640 L418,639 L418,704.5 L406,702 L404.5,698Z" fill="#aedadd" stroke="#aedadd" stroke-width="2" stroke-linejoin="round"/>

<!-- core -->
<path d="M513.5,609.5 C517.8,606.6 523.7,605.3 530.5,603.1 C537.3,600.9 545.8,598.8 554.0,596.2 C562.2,593.5 571.2,590.5 579.7,587.2 C588.2,583.9 596.7,580.2 605.0,576.3 C613.4,572.4 621.7,568.2 630.0,563.9 C638.3,559.6 646.7,555.0 655.0,550.3 C663.3,545.6 671.7,540.7 680.0,535.5 C688.3,530.3 696.6,525.0 705.0,519.2 C713.3,513.3 721.6,507.2 730.0,500.4 C738.4,493.7 747.0,486.3 755.4,478.6 C763.9,471.0 772.7,462.5 780.7,454.6 C788.6,446.6 796.5,438.5 803.3,431.0 C810.1,423.5 816.1,416.3 821.5,409.5 C826.9,402.6 831.4,396.2 835.7,389.9 C840.0,383.6 845.5,374.7 847.5,371.7 C846.1,368.9 841.2,359.9 839.4,354.8 C837.5,349.8 836.1,345.9 836.2,341.3 C836.3,336.6 837.6,332.7 840.0,326.9 C842.4,321.1 846.2,313.9 850.5,306.6 C854.8,299.2 860.5,290.3 865.9,283.1 C871.3,275.8 877.5,268.8 883.2,263.2 C888.9,257.6 894.8,253.2 900.3,249.6 C905.8,246.0 911.2,243.4 916.2,241.6 C921.3,239.9 926.1,239.1 930.6,239.0 C935.0,239.0 939.2,239.9 943.1,241.4 C946.9,243.0 950.5,245.3 953.6,248.1 C956.7,250.9 959.5,254.4 961.7,258.3 C963.8,262.3 965.5,266.8 966.6,271.6 C967.8,276.3 968.3,281.5 968.4,286.7 C968.6,292.0 968.2,297.5 967.7,303.0 C967.1,308.6 966.2,314.3 965.2,320.1 C964.1,325.9 962.8,331.8 961.2,337.7 C959.6,343.6 957.6,349.5 955.4,355.4 C953.3,361.3 950.7,367.2 948.1,373.0 C945.5,378.7 942.8,384.4 940.0,390.1 C937.3,395.7 934.5,401.2 931.5,406.7 C928.5,412.3 925.3,417.8 922.0,423.3 C918.6,428.9 915.1,434.4 911.5,440.0 C907.8,445.6 904.0,451.2 900.1,456.7 C896.3,462.3 892.3,467.9 888.4,473.5 C884.5,479.0 880.6,484.5 876.7,489.8 C872.9,495.1 869.2,500.2 865.3,505.2 C861.4,510.2 857.8,514.8 853.5,519.6 C849.2,524.3 844.6,528.9 839.3,533.6 C834.1,538.3 827.9,543.2 822.0,547.6 C816.2,552.1 810.1,556.3 804.3,560.5 C798.5,564.6 793.1,568.4 787.3,572.7 C781.4,577.0 774.9,581.9 769.0,586.3 C763.1,590.8 756.8,595.7 751.7,599.5 C746.6,603.3 742.6,606.3 738.3,609.4 C734.0,612.5 730.5,615.0 725.8,618.2 C721.2,621.5 715.9,625.1 710.5,628.7 C705.1,632.3 699.1,636.3 693.5,639.8 C687.9,643.4 682.2,646.8 676.6,650.0 C671.1,653.2 665.5,656.1 660.0,659.1 C654.4,662.0 648.9,664.7 643.3,667.5 C637.8,670.3 632.2,673.0 626.7,675.7 C621.1,678.5 615.6,681.2 610.0,684.1 C604.4,687.0 598.8,689.7 593.1,692.9 C587.5,696.1 581.8,699.2 576.4,703.2 C571.0,707.1 565.6,711.7 560.8,716.7 C555.9,721.7 551.6,728.0 547.2,733.0 C542.9,737.9 538.9,743.4 534.7,746.4 C530.5,749.5 526.1,751.3 522.0,751.3 C517.9,751.4 513.5,749.8 510.1,746.9 C506.6,743.9 503.6,739.8 501.5,733.5 C499.5,727.3 498.4,719.0 497.8,709.3 C497.3,699.6 497.6,686.6 498.0,675.5 C498.3,664.3 499.0,651.6 500.1,642.4 C501.1,633.2 502.0,625.8 504.2,620.3 C506.5,614.9 509.1,612.3 513.5,609.5Z" fill="url(#coreg)"/>
<g clip-path="url(#coreclip)" fill="none" stroke-linecap="round">
  <path d="M513.5,609.5 C516.3,608.4 523.7,605.3 530.5,603.1 C537.3,600.9 545.8,598.8 554.0,596.2 C562.2,593.5 571.2,590.5 579.7,587.2 C588.2,583.9 596.7,580.2 605.0,576.3 C613.4,572.4 621.7,568.2 630.0,563.9 C638.3,559.6 646.7,555.0 655.0,550.3 C663.3,545.6 671.7,540.7 680.0,535.5 C688.3,530.3 696.6,525.0 705.0,519.2 C713.3,513.3 721.6,507.2 730.0,500.4 C738.4,493.7 747.0,486.3 755.4,478.6 C763.9,471.0 772.7,462.5 780.7,454.6 C788.6,446.6 796.5,438.5 803.3,431.0 C810.1,423.5 816.1,416.3 821.5,409.5 C826.9,402.6 831.4,396.2 835.7,389.9 C840.0,383.6 845.5,374.7 847.5,371.7 C846.1,368.9 841.2,359.9 839.4,354.8 C837.5,349.8 836.1,345.9 836.2,341.3 C836.3,336.6 837.6,332.7 840.0,326.9 C842.4,321.1 846.2,313.9 850.5,306.6 C854.8,299.2 860.5,290.3 865.9,283.1 C871.3,275.8 877.5,268.8 883.2,263.2 C888.9,257.6 894.8,253.2 900.3,249.6 C905.8,246.0 911.2,243.4 916.2,241.6 C921.3,239.9 928.2,239.5 930.6,239.0" stroke="#a6d4da" stroke-width="40" filter="url(#b8)" opacity=".5"/>
  <path d="M955.4,355.4 C954.2,358.3 950.7,367.2 948.1,373.0 C945.5,378.7 942.8,384.4 940.0,390.1 C937.3,395.7 934.5,401.2 931.5,406.7 C928.5,412.3 925.3,417.8 922.0,423.3 C918.6,428.9 915.1,434.4 911.5,440.0 C907.8,445.6 904.0,451.2 900.1,456.7 C896.3,462.3 892.3,467.9 888.4,473.5 C884.5,479.0 880.6,484.5 876.7,489.8 C872.9,495.1 869.2,500.2 865.3,505.2 C861.4,510.2 857.8,514.8 853.5,519.6 C849.2,524.3 844.6,528.9 839.3,533.6 C834.1,538.3 827.9,543.2 822.0,547.6 C816.2,552.1 810.1,556.3 804.3,560.5 C798.5,564.6 793.1,568.4 787.3,572.7 C781.4,577.0 774.9,581.9 769.0,586.3 C763.1,590.8 756.8,595.7 751.7,599.5 C746.6,603.3 742.6,606.3 738.3,609.4 C734.0,612.5 730.5,615.0 725.8,618.2 C721.2,621.5 715.9,625.1 710.5,628.7 C705.1,632.3 699.1,636.3 693.5,639.8 C687.9,643.4 682.2,646.8 676.6,650.0 C671.1,653.2 665.5,656.1 660.0,659.1 C654.4,662.0 648.9,664.7 643.3,667.5 C637.8,670.3 632.2,673.0 626.7,675.7 C621.1,678.5 615.6,681.2 610.0,684.1 C604.4,687.0 598.8,689.7 593.1,692.9 C587.5,696.1 581.8,699.2 576.4,703.2 C571.0,707.1 565.6,711.7 560.8,716.7 C555.9,721.7 549.5,730.3 547.2,733.0" stroke="url(#shg)" stroke-width="76" filter="url(#b8)"/>
  <path d="M955.4,355.4 C954.2,358.3 950.7,367.2 948.1,373.0 C945.5,378.7 942.8,384.4 940.0,390.1 C937.3,395.7 934.5,401.2 931.5,406.7 C928.5,412.3 925.3,417.8 922.0,423.3 C918.6,428.9 915.1,434.4 911.5,440.0 C907.8,445.6 904.0,451.2 900.1,456.7 C896.3,462.3 892.3,467.9 888.4,473.5 C884.5,479.0 880.6,484.5 876.7,489.8 C872.9,495.1 869.2,500.2 865.3,505.2 C861.4,510.2 857.8,514.8 853.5,519.6 C849.2,524.3 844.6,528.9 839.3,533.6 C834.1,538.3 827.9,543.2 822.0,547.6 C816.2,552.1 810.1,556.3 804.3,560.5 C798.5,564.6 793.1,568.4 787.3,572.7 C781.4,577.0 774.9,581.9 769.0,586.3 C763.1,590.8 756.8,595.7 751.7,599.5 C746.6,603.3 742.6,606.3 738.3,609.4 C734.0,612.5 730.5,615.0 725.8,618.2 C721.2,621.5 715.9,625.1 710.5,628.7 C705.1,632.3 699.1,636.3 693.5,639.8 C687.9,643.4 682.2,646.8 676.6,650.0 C671.1,653.2 665.5,656.1 660.0,659.1 C654.4,662.0 648.9,664.7 643.3,667.5 C637.8,670.3 632.2,673.0 626.7,675.7 C621.1,678.5 615.6,681.2 610.0,684.1 C604.4,687.0 598.8,689.7 593.1,692.9 C587.5,696.1 581.8,699.2 576.4,703.2 C571.0,707.1 565.6,711.7 560.8,716.7 C555.9,721.7 549.5,730.3 547.2,733.0" stroke="#98c3cb" stroke-width="24" filter="url(#b5)" opacity=".9"/>
  <path d="M840,348 Q862,340 900,342" stroke="#86b0b8" stroke-width="10" filter="url(#b5)" opacity=".45"/>
</g>
<!-- callouts -->
<g fill="none" stroke="#111" stroke-width="2.2">
  <circle cx="928.5" cy="219.5" r="16"/><line x1="835.5" y1="140.5" x2="916" y2="209.5"/>
  <circle cx="255" cy="477.5" r="16"/><line x1="255.3" y1="316" x2="255.3" y2="461.5"/>
  <circle cx="747.5" cy="549" r="16"/><line x1="747.7" y1="565" x2="747.7" y2="751"/>
  <circle cx="232.5" cy="833.5" r="16"/><line x1="244.5" y1="845" x2="346" y2="950"/>
</g>
<g font-size="32">
  <text x="547.82" y="134.3" textLength="145.2" lengthAdjust="spacingAndGlyphs">PINPOINT</text>
  <text x="704.48" y="134.3" textLength="34.3" lengthAdjust="spacingAndGlyphs">G-</text>
  <text x="747.64" y="134.3" textLength="44.89" lengthAdjust="spacingAndGlyphs">OR</text>
  <text x="801.13" y="134.3" textLength="108.39" lengthAdjust="spacingAndGlyphs">P-SPOT</text>
  <text x="547.81" y="174.7" textLength="213.18" lengthAdjust="spacingAndGlyphs">STIMULATION</text>
  <text x="68.12" y="262.6" textLength="171.18" lengthAdjust="spacingAndGlyphs">OPTIMIZED</text>
  <text x="247.22" y="262.6" textLength="95.38" lengthAdjust="spacingAndGlyphs">GIRTH</text>
  <text x="350.34" y="262.6" textLength="63.72" lengthAdjust="spacingAndGlyphs">FOR</text>
  <text x="68.08" y="302.4" textLength="51.51" lengthAdjust="spacingAndGlyphs">100</text>
  <text x="127.2" y="302.4" textLength="26.79" lengthAdjust="spacingAndGlyphs">%</text>
  <text x="162.91" y="302.4" textLength="225.59" lengthAdjust="spacingAndGlyphs">HARNESS-FREE</text>
  <text x="397.06" y="302.4" textLength="89.81" lengthAdjust="spacingAndGlyphs">WEAR</text>
  <text x="555.32" y="786.7" textLength="190.78" lengthAdjust="spacingAndGlyphs">INNOVATIVE</text>
  <text x="754.71" y="786.7" textLength="219.99" lengthAdjust="spacingAndGlyphs">LIGHTWEIGHT</text>
  <text x="556.1" y="826.3" textLength="78.58" lengthAdjust="spacingAndGlyphs">CORE</text>
  <text x="643.53" y="826.3" textLength="112.17" lengthAdjust="spacingAndGlyphs">MEANS</text>
  <text x="764.94" y="826.3" textLength="48.74" lengthAdjust="spacingAndGlyphs">NO</text>
  <text x="821.91" y="826.3" textLength="144.58" lengthAdjust="spacingAndGlyphs">SLIPPING</text>
  <text x="356.41" y="963.6" textLength="202.38" lengthAdjust="spacingAndGlyphs">REBALANCED</text>
  <text x="571.5" y="963.6" textLength="12.76" lengthAdjust="spacingAndGlyphs">–</text>
  <text x="354.8" y="1003.3" textLength="42.56" lengthAdjust="spacingAndGlyphs">TIP</text>
  <text x="407.63" y="1003.3" textLength="88.96" lengthAdjust="spacingAndGlyphs">STAYS</text>
  <text x="504.94" y="1003.3" textLength="91.99" lengthAdjust="spacingAndGlyphs">ERECT</text>
  <text x="607.61" y="1003.3" textLength="125.58" lengthAdjust="spacingAndGlyphs">DURING</text>
  <text x="740.94" y="1003.3" textLength="72.96" lengthAdjust="spacingAndGlyphs">PLAY</text>
</g>
</svg>
<div id="edge" style="position:absolute;left:0;top:0;width:1080px;height:1080px;box-shadow:inset 1px 1px 5px 2px rgba(255,255,255,.8), inset -1px -1px 4px 1px rgba(255,255,255,.7);pointer-events:none"></div>
</body></html>
